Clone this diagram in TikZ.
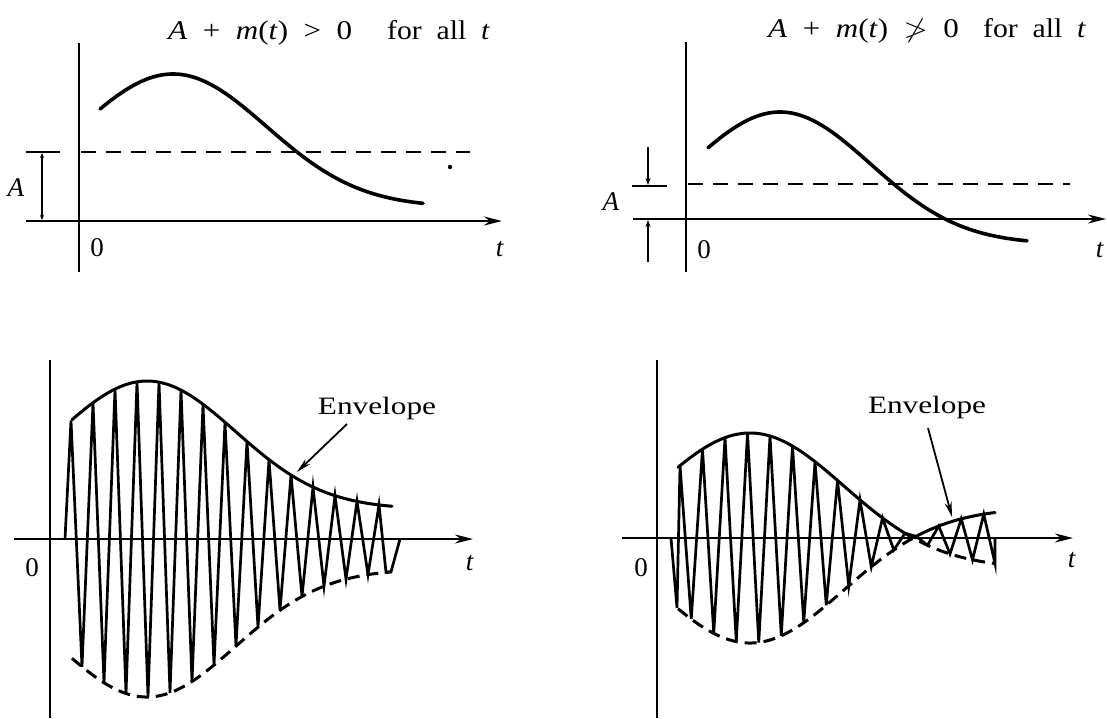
\documentclass[tikz,border=0pt]{standalone}
\usepackage{fontspec}
\setmainfont{Liberation Serif}
\usepackage{amssymb}
\usepackage{graphicx}
\usetikzlibrary{arrows.meta}
\begin{document}
\begin{tikzpicture}[x=1pt,y=-1pt,
  axis/.style={line width=2.4pt},
  axarrow/.style={line width=2.4pt,-{Stealth[length=18pt,width=9pt]}},
  sig/.style={line width=3.6pt,line cap=round,line join=round},
  dashref/.style={line width=2.2pt,dash pattern=on 15pt off 10pt},
  envup/.style={line width=3pt,line cap=round},
  envdn/.style={line width=3pt,dash pattern=on 12pt off 7pt},
  carrier/.style={line width=2.7pt},
  smallarr/.style={line width=1.4pt,-{Stealth[length=7pt,width=5pt]}},
  lbl/.style={font=\fontsize{27}{30}\selectfont,inner sep=0pt},
  ttl/.style={font=\fontsize{27}{30}\selectfont,inner sep=0pt,anchor=base west},
  envlbl/.style={font=\fontsize{25}{29}\selectfont,inner sep=0pt},
  pointer/.style={line width=1.8pt,-{Stealth[length=15pt,width=7pt]}},
  declare function={envA(\x)=30+128*exp(-((\x-147)/125)*((\x-147)/125));
                    envB(\x)=-30+135*exp(-((\x-750)/133)*((\x-750)/133));
                    mA(\x)=14+133*exp(-((\x-173)/132)*((\x-173)/132));
                    mB(\x)=-25+132*exp(-((\x-780)/128)*((\x-780)/128));}
]
\useasboundingbox (0,0) rectangle (1107,718);

% ---------------- top left ----------------
\draw[axis] (79,43) -- (79,272);
\draw[axarrow] (26,221) -- (502,221);
\draw[axis] (26,152) -- (60,152);
\draw[dashref] (81,152) -- (470,152);
\draw[line width=1.4pt,{Stealth[length=5pt,width=4pt]}-{Stealth[length=5pt,width=4pt]}] (42,153) -- (42,220);
\fill (450,167) circle (2.2pt);
\draw[sig] plot[domain=100:423,samples=80] (\x,{221-mA(\x)});
\node[lbl] (tlA) at (16,188) {\textit{A}};
\node[lbl] (tl0) at (97,248) {0};
\node[lbl] (tlt) at (500,249) {\textit{t}};
\node[ttl] (tlf) at (168,39) {\scalebox{1.15}[1]{\textit{A}\enspace+\enspace\textit{m}(\textit{t})\enspace>\enspace0}};
\node[ttl] (tlfa) at (387,39) {\scalebox{1.1}[1]{for\enspace all\enspace\textit{t}}};

% ---------------- top right ----------------
\draw[axis] (686,42) -- (686,272);
\draw[axarrow] (633,219) -- (1106,219);
\draw[axis] (632,186) -- (667,186);
\draw[dashref] (688,184) -- (1070,184);
\draw[smallarr] (648,147) -- (648,185);
\draw[smallarr] (648,262) -- (648,220);
\draw[sig] plot[domain=708:1027,samples=80] (\x,{219-mB(\x)});
\node[lbl] (trA) at (611,202) {\textit{A}};
\node[lbl] (tr0) at (704,250) {0};
\node[lbl] (trt) at (1100,250) {\textit{t}};
\node[ttl] (trf) at (768,37) {\scalebox{1.15}[1]{\textit{A}\enspace+\enspace\textit{m}(\textit{t})\enspace$\ngtr$\enspace0}};
\node[ttl] (trfa) at (983,37) {\scalebox{1.1}[1]{for\enspace all\enspace\textit{t}}};

% ---------------- bottom left ----------------
\draw[axis] (50,360) -- (50,718);
\draw[axarrow] (14,539) -- (473,539);
\draw[envup] plot[domain=72:392,samples=80] (\x,{539-envA(\x)});
\draw[envdn] plot[domain=72:392,samples=80] (\x,{539+envA(\x)});
\draw[carrier] (65,539) foreach \k in {0,...,28}{ -- ({71+11*\k},{539-cos(180*\k)*envA(71+11*\k)}) } -- (386,{539+envA(386)}) -- (391,{539+envA(391)}) -- (400,539);
\node[lbl] (bl0) at (32,568) {0};
\node[lbl] (blt) at (470,563) {\textit{t}};
\node[envlbl] (envL) at (377,408) {\scalebox{1.25}[1]{Envelope}};
\coordinate (eLs) at (347,424);
\coordinate (eL) at (297,472);
\draw[pointer] (eLs) -- (eL);

% ---------------- bottom right ----------------
\draw[axis] (657,360) -- (657,718);
\draw[axarrow] (622,538) -- (1073,538);
\draw[envup] plot[domain=678:995,samples=100] (\x,{538-abs(envB(\x))});
\draw[envdn] plot[domain=678:995,samples=100] (\x,{538+abs(envB(\x))});
\draw[carrier] (671,538) -- (677,{538+envB(677)}) foreach \k in {0,...,28}{ -- ({680+11.25*\k},{538-cos(180*\k)*envB(680+11.25*\k)}) } -- (995,538);
\node[lbl] (br0) at (641,568) {0};
\node[lbl] (brt) at (1072,560) {\textit{t}};
\node[envlbl] (envR) at (927,407) {\scalebox{1.25}[1]{Envelope}};
\coordinate (eRs) at (928,428);
\coordinate (eR) at (952,517);
\draw[pointer] (eRs) -- (eR);
\end{tikzpicture}
\end{document}
